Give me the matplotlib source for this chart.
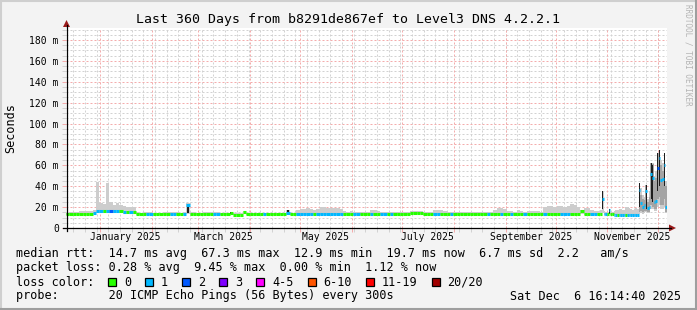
import matplotlib
matplotlib.use('Agg')
import matplotlib.pyplot as plt
import matplotlib.dates as mdates
from matplotlib.transforms import IdentityTransform, blended_transform_factory
from matplotlib.lines import Line2D
from matplotlib.patches import Rectangle, Polygon
from matplotlib.collections import LineCollection
from datetime import datetime, timedelta

plt.rcParams['font.family'] = ['DejaVu Sans Mono']

# ---------------- data ----------------
start = datetime(2024, 12, 11, 16, 14, 40)
end = datetime(2025, 12, 6, 16, 14, 40)

# 2-day samples for days 0..318, then daily samples for days 320..359
days = list(range(0, 320, 2)) + list(range(320, 360))

median_ms = [
    13.8, 13.8, 13.6, 13.8, 13.8, 13.6, 13.8, 13.8, 14.0, 16.0,
    16.5, 16.5, 16.5, 16.5, 16.5, 16.0, 16.0, 15.5, 15.0, 15.0,
    15.0, 13.6, 13.6, 13.6, 13.8, 13.8, 13.6, 13.6, 13.6, 13.6,
    13.6, 13.8, 13.8, 13.8, 13.6, 13.8, 22.0, 13.8, 13.6, 13.6,
    13.6, 13.6, 13.6, 13.6, 13.8, 13.8, 13.6, 13.6, 13.0, 14.8,
    12.8, 12.8, 12.8, 15.3, 13.4, 13.4, 13.4, 13.4, 13.4, 13.4,
    13.4, 13.4, 13.4, 13.4, 13.4, 13.4, 14.5, 13.4, 13.4, 13.8,
    13.8, 13.8, 13.8, 13.8, 13.8, 13.8, 13.8, 13.8, 13.8, 13.8,
    13.8, 13.8, 13.8, 13.6, 13.6, 13.6, 13.6, 13.6, 13.6, 13.6,
    13.6, 13.6, 13.6, 13.6, 13.2, 13.2, 13.2, 13.2, 13.6, 13.6,
    13.6, 13.6, 13.6, 14.2, 14.2, 14.2, 14.0, 13.6, 13.6, 13.6,
    13.6, 13.6, 13.6, 13.6, 13.6, 13.6, 13.6, 13.6, 13.6, 13.6,
    13.6, 13.6, 13.6, 13.6, 13.6, 13.6, 13.6, 13.6, 13.6, 13.6,
    13.6, 13.6, 13.6, 13.6, 13.6, 13.8, 13.6, 13.6, 13.6, 13.6,
    13.6, 13.6, 13.6, 13.4, 13.6, 13.6, 13.6, 13.6, 13.0, 13.0,
    13.0, 13.6, 13.6, 13.6, 16.4, 13.6, 13.6, 13.4, 13.4, 13.6,
    # daily from day 320
    13.5, 28.0, 13.5, 13.4, 13.4, 17.0, 13.0, 13.0, 12.8, 12.8,
    12.5, 12.5, 12.5, 12.5, 12.5, 12.5, 12.5, 12.5, 12.5, 12.5,
    12.5, 12.5, 12.5, 36.0, 24.0, 20.0, 22.0, 35.0, 19.0, 20.0,
    52.0, 48.0, 25.0, 26.0, 57.0, 67.0, 46.0, 47.0, 60.0, 19.7,
]

loss_count = [
    0, 0, 0, 0, 0, 0, 0, 0, 1, 1,
    1, 0, 1, 2, 1, 1, 0, 1, 0, 1,
    0, 0, 0, 0, 1, 1, 0, 0, 0, 0,
    0, 1, 1, 0, 0, 1, 1, 0, 0, 0,
    0, 0, 0, 0, 1, 1, 0, 0, 0, 0,
    0, 0, 0, 0, 0, 0, 0, 0, 0, 1,
    0, 0, 0, 0, 0, 0, 1, 0, 0, 1,
    1, 1, 1, 1, 0, 1, 1, 1, 1, 1,
    1, 1, 1, 0, 0, 0, 1, 1, 0, 0,
    0, 1, 0, 0, 1, 1, 0, 1, 0, 0,
    0, 0, 0, 0, 0, 0, 0, 0, 0, 0,
    1, 1, 0, 0, 0, 1, 0, 0, 0, 0,
    0, 0, 0, 0, 0, 0, 1, 0, 0, 0,
    1, 0, 0, 1, 0, 0, 0, 1, 0, 0,
    0, 0, 0, 1, 0, 0, 0, 0, 1, 1,
    1, 0, 0, 0, 0, 0, 0, 1, 1, 0,
    # daily from day 320
    0, 1, 1, 1, 0, 1, 0, 0, 1, 1,
    0, 1, 1, 1, 1, 0, 1, 1, 1, 1,
    1, 1, 1, 1, 1, 1, 1, 1, 1, 1,
    1, 1, 1, 1, 2, 1, 1, 1, 1, 1,
]

smoke_max = [
    14.8, 15.0, 15.2, 15.5, 16.0, 16.5, 16.5, 16.5, 17.0, 44.0,
    24.0, 23.0, 43.5, 25.0, 22.0, 24.0, 22.0, 21.0, 20.0, 20.0,
    20.0, 15.0, 14.8, 15.0, 15.0, 15.0, 14.8, 14.8, 14.8, 15.0,
    15.0, 15.0, 15.0, 15.0, 14.8, 15.0, 23.5, 15.0, 15.0, 14.8,
    14.8, 15.0, 15.0, 15.0, 15.0, 15.0, 14.8, 14.8, 14.5, 15.6,
    14.0, 14.0, 14.0, 16.0, 14.8, 14.8, 14.8, 14.8, 14.8, 14.8,
    14.8, 14.8, 14.8, 14.8, 14.8, 14.8, 17.5, 14.8, 14.8, 17.0,
    18.5, 18.0, 19.0, 18.0, 17.5, 18.5, 20.0, 20.0, 19.5, 19.0,
    19.0, 19.0, 18.0, 16.0, 15.5, 16.0, 15.5, 15.5, 15.0, 15.0,
    15.5, 17.0, 17.0, 16.0, 15.0, 15.0, 15.5, 15.0, 15.0, 15.0,
    15.0, 15.0, 15.5, 16.5, 16.5, 16.5, 16.0, 15.0, 15.0, 15.0,
    17.5, 17.5, 17.0, 16.0, 15.0, 15.0, 15.0, 15.0, 15.0, 15.0,
    15.0, 15.0, 15.0, 15.5, 15.0, 15.0, 15.0, 15.0, 17.0, 19.0,
    19.0, 18.0, 16.0, 16.0, 15.0, 17.0, 16.0, 15.0, 16.0, 16.0,
    16.0, 16.0, 15.5, 20.0, 21.0, 21.0, 20.0, 21.0, 21.0, 20.0,
    21.0, 23.0, 22.0, 20.0, 17.0, 19.0, 19.0, 17.0, 16.0, 16.0,
    # daily from day 320
    17.0, 35.5, 16.0, 15.5, 15.0, 18.5, 15.0, 15.0, 16.0, 17.0,
    17.0, 18.0, 18.0, 17.0, 17.0, 20.0, 20.0, 19.0, 18.0, 17.0,
    18.0, 19.0, 18.0, 43.0, 38.0, 32.0, 30.0, 41.0, 28.0, 35.0,
    62.0, 62.0, 50.0, 55.0, 72.0, 75.0, 65.0, 62.0, 72.0, 45.0,
]

smoke_min = [
    12.9, 12.9, 12.8, 12.9, 12.9, 12.8, 12.9, 12.9, 13.0, 14.0,
    14.5, 14.5, 14.5, 14.5, 14.5, 14.0, 14.0, 13.8, 13.5, 13.5,
    13.5, 12.8, 12.8, 12.8, 12.9, 12.9, 12.8, 12.8, 12.8, 12.8,
    12.8, 12.9, 12.9, 12.9, 12.8, 12.9, 13.5, 12.9, 12.8, 12.8,
    12.8, 12.8, 12.8, 12.8, 12.9, 12.9, 12.8, 12.8, 12.2, 12.8,
    12.0, 12.0, 12.0, 13.0, 12.6, 12.6, 12.6, 12.6, 12.6, 12.6,
    12.6, 12.6, 12.6, 12.6, 12.6, 12.6, 12.8, 12.6, 12.6, 12.9,
    12.9, 12.9, 12.9, 12.9, 12.9, 12.9, 12.9, 12.9, 12.9, 12.9,
    12.9, 12.9, 12.9, 12.8, 12.8, 12.8, 12.8, 12.8, 12.8, 12.8,
    12.8, 12.8, 12.8, 12.8, 12.4, 12.4, 12.4, 12.4, 12.8, 12.8,
    12.8, 12.8, 12.8, 13.2, 13.2, 13.2, 13.0, 12.8, 12.8, 12.8,
    12.8, 12.8, 12.8, 12.8, 12.8, 12.8, 12.8, 12.8, 12.8, 12.8,
    12.8, 12.8, 12.8, 12.8, 12.8, 12.8, 12.8, 12.8, 12.8, 12.8,
    12.8, 12.8, 12.8, 12.8, 12.8, 12.9, 12.8, 12.8, 12.8, 12.8,
    12.8, 12.8, 12.8, 12.6, 12.8, 12.8, 12.8, 12.8, 12.2, 12.2,
    12.2, 12.8, 12.8, 12.8, 13.5, 12.8, 12.8, 12.6, 12.6, 12.8,
    # daily from day 320
    12.8, 14.0, 12.8, 12.6, 12.6, 13.0, 12.2, 12.2, 12.0, 12.0,
    11.8, 11.8, 11.8, 11.8, 11.8, 11.8, 11.8, 11.8, 11.8, 11.8,
    11.8, 11.8, 11.8, 13.0, 14.0, 13.5, 14.0, 15.0, 14.0, 14.0,
    18.0, 18.0, 16.0, 16.0, 20.0, 22.0, 18.0, 18.0, 20.0, 14.0,
]

# medium smoke (sample day, low, high)
mid_day = [343, 344, 345, 346, 347, 348, 349, 350, 351, 352, 353, 354, 355, 356, 357, 358, 359]
mid_lo = [15.0, 16.0, 15.0, 16.0, 16.0, 15.0, 15.0, 22.0, 20.0, 18.0, 18.0, 28.0, 30.0, 22.0, 22.0, 28.0, 15.0]
mid_hi = [43.0, 32.0, 28.0, 27.0, 41.0, 25.0, 30.0, 62.0, 61.0, 45.0, 48.0, 72.0, 75.0, 60.0, 55.0, 72.0, 40.0]

# dense (dark) smoke (sample day, low, high)
dark_day = [72, 98, 132, 308, 321, 325, 343, 347, 350, 351, 354, 355, 358]
dark_lo = [14.0, 13.5, 13.8, 14.0, 18.0, 13.5, 20.0, 18.0, 28.0, 25.0, 35.0, 40.0, 40.0]
dark_hi = [22.7, 15.5, 17.5, 16.5, 35.0, 18.0, 43.0, 41.0, 62.0, 60.0, 72.0, 75.0, 71.5]

y_ticks = [0, 20, 40, 60, 80, 100, 120, 140, 160, 180]
y_tick_labels = ['0', '20 m', '40 m', '60 m', '80 m', '100 m', '120 m', '140 m', '160 m', '180 m']
x_label_months = [(2025, 1, 'January 2025'), (2025, 3, 'March 2025'), (2025, 5, 'May 2025'),
                  (2025, 7, 'July 2025'), (2025, 9, 'September 2025'), (2025, 11, 'November 2025')]

loss_colors = {0: '#26ff00', 1: '#00b8ff', 2: '#0059ff', 3: '#7e00ff',
               5: '#ff00ff', 10: '#ff5500', 19: '#ff0000', 20: '#a10000'}
legend_loss = [('0', '#26ff00'), ('1', '#00b8ff'), ('2', '#0059ff'), ('3', '#7e00ff'),
               ('4-5', '#ff00ff'), ('6-10', '#ff5500'), ('11-19', '#ff0000'), ('20/20', '#a10000')]

title = 'Last 360 Days from b8291de867ef to Level3 DNS 4.2.2.1'
legend_rows = [
    'median rtt:  14.7 ms avg  67.3 ms max  12.9 ms min  19.7 ms now  6.7 ms sd  2.2   am/s',
    'packet loss: 0.28 % avg  9.45 % max  0.00 % min  1.12 % now',
    'loss color:',
    'probe:       20 ICMP Echo Pings (56 Bytes) every 300s',
]
stamp = 'Sat Dec  6 16:14:40 2025'


def loss_color(n):
    for k in sorted(loss_colors):
        if n <= k:
            return loss_colors[k]
    return loss_colors[20]


# ---------------- figure ----------------
W, H = 697, 310
fig = plt.figure(figsize=(W / 100, H / 100), dpi=100, facecolor='#f3f3f3')
PX = IdentityTransform()


def P(x, y):
    return (x, H - y)


X0, X1, YT, YB = 66, 667, 28, 228
ax = fig.add_axes([X0 / W, (H - YB) / H, (X1 - X0) / W, (YB - YT) / H])
ax.set_facecolor('white')
t0 = mdates.date2num(start)
t1 = mdates.date2num(end)
ax.set_xlim(t0, t1)
ax.set_ylim(0, 191.5)
for s in ax.spines.values():
    s.set_visible(False)

# grid
minor_c = '#d2d2d2'
major_c = '#f4acac'
dash = (0, (2.0, 2.0))
wk = []
d = datetime(2024, 12, 16)
while d < end:
    wk.append(mdates.date2num(d))
    d += timedelta(days=7)
for x in wk:
    ax.axvline(x, color=minor_c, lw=0.72, ls=dash, zorder=0)
for v in range(5, 191, 5):
    if v % 20:
        ax.axhline(v, color=minor_c, lw=0.72, ls=dash, zorder=0)
month_starts = []
y, m = 2025, 1
while datetime(y, m, 1) < end:
    month_starts.append(mdates.date2num(datetime(y, m, 1)))
    m += 1
    if m > 12:
        y, m = y + 1, 1
for x in month_starts:
    ax.axvline(x, color=major_c, lw=0.72, ls=dash, zorder=0.5)
for v in y_ticks[1:]:
    ax.axhline(v, color=major_c, lw=0.72, ls=dash, zorder=0.5)

# ticks
ax.set_yticks(y_ticks)
ax.set_yticklabels(y_tick_labels)
ax.set_yticks([v for v in range(5, 191, 5) if v % 20], minor=True)
ax.tick_params(axis='y', which='major', length=3, width=0.72, color=major_c, pad=2.2, labelsize=7)
ax.tick_params(axis='y', which='minor', length=3, width=0.72, color=minor_c)
ax.set_xticks(month_starts)
ax.set_xticklabels([])
ax.tick_params(axis='x', which='major', length=3, width=0.72, color=major_c)
ax.set_xticks(wk, minor=True)
ax.tick_params(axis='x', which='minor', length=3, width=0.72, color=minor_c)

# data positions
xs = [t0 + dd for dd in days]
widths = [2 if dd < 320 else 1 for dd in days]
xe = xs + [xs[-1] + widths[-1]]
n = len(days)

# smoke
ax.fill_between(xe, smoke_min + [smoke_min[-1]], smoke_max + [smoke_max[-1]],
                step='post', color='#cdcdcd', lw=0, zorder=1)
for dd, lo, hi in zip(mid_day, mid_lo, mid_hi):
    w = 2 if dd < 320 else 1
    ax.fill_between([t0 + dd, t0 + dd + w], [lo, lo], [hi, hi], color='#a4a4a4', lw=0, zorder=1.2)
for dd, lo, hi in zip(dark_day, dark_lo, dark_hi):
    w = 2 if dd < 320 else 1
    ax.fill_between([t0 + dd + w * 0.2, t0 + dd + w * 0.8], [lo, lo], [hi, hi],
                    color='#1e1e1e', lw=0, zorder=1.4)

# median coloured by loss (short horizontal bars, no vertical connectors)
segs, cols = [], []
for i in range(n):
    segs.append([(xe[i], median_ms[i]), (xe[i + 1], median_ms[i])])
    cols.append(loss_color(loss_count[i]))
ax.add_collection(LineCollection(segs, colors=cols, linewidths=2.2, capstyle='butt', zorder=3))

# month labels
bt = blended_transform_factory(ax.transData, PX)
for yy, mm, lab in x_label_months:
    x = mdates.date2num(datetime(yy, mm, 16))
    ax.text(x, H - 237.5, lab, transform=bt, ha='center', va='center', fontsize=7, clip_on=False)

# axes lines and arrows
fig.add_artist(Line2D([X0 - 3, 671], [H - YB, H - YB], transform=PX, color='black', lw=0.9))
fig.add_artist(Line2D([X0 + 0.5, X0 + 0.5], [H - YB - 3, H - 25], transform=PX, color='black', lw=0.9))
fig.add_artist(Polygon([P(669, 224.5), P(676, 228), P(669, 231.5)], closed=True, transform=PX,
                       color='#9a1b1b', lw=0))
fig.add_artist(Polygon([(X0 + 0.5 - 3.5, H - 27), (X0 + 0.5, H - 20), (X0 + 0.5 + 3.5, H - 27)], closed=True,
                       transform=PX, color='#9a1b1b', lw=0))

# frame
fig.add_artist(Line2D([0, W], [H - 0.5, H - 0.5], transform=PX, color='#cfcfcf', lw=1.5))
fig.add_artist(Line2D([0.5, 0.5], [0, H], transform=PX, color='#cfcfcf', lw=1.5))
fig.add_artist(Line2D([0, W], [1, 1], transform=PX, color='#9e9e9e', lw=1.5))
fig.add_artist(Line2D([W - 1, W - 1], [0, H], transform=PX, color='#9e9e9e', lw=1.5))

# texts
fig.text(W / 2, H - 19, title, transform=PX, ha='center', va='center', fontsize=9.5)
fig.text(11, H - 128, 'Seconds', transform=PX, ha='center', va='center', rotation=90, fontsize=8.5)
fig.text(688, H - 4, 'RRDTOOL / TOBI OETIKER', transform=PX, ha='center', va='top', rotation=270,
         fontsize=5.5, color='#b4b4b4')
row_y = [254, 268, 282, 296]
for txt, yy in zip(legend_rows, row_y):
    fig.text(16, H - yy, txt, transform=PX, ha='left', va='center', fontsize=8.5)
fig.text(681, H - 296, stamp, transform=PX, ha='right', va='center', fontsize=8.5)

cw = 7.1
bx = 108
for lab, c in legend_loss:
    fig.add_artist(Rectangle((bx, H - 286), 8, 8, transform=PX, facecolor=c, edgecolor='black', lw=0.9))
    lx = bx + 16
    fig.text(lx, H - 282, lab, transform=PX, ha='left', va='center', fontsize=8.5)
    bx = lx + len(lab) * cw + 14

fig.savefig('out.png', dpi=100, facecolor=fig.get_facecolor())
